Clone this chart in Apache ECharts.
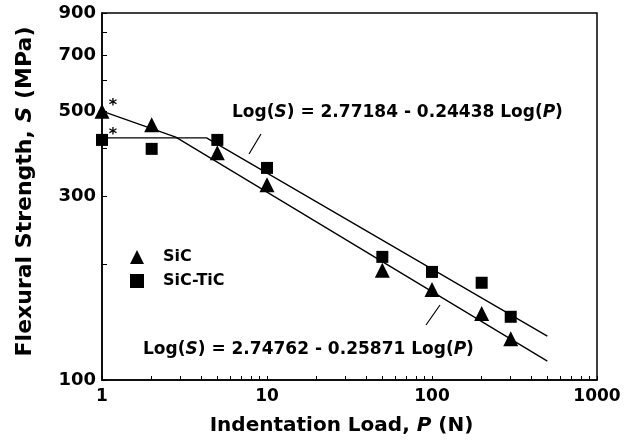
<!DOCTYPE html>
<html>
<head>
<meta charset="utf-8">
<script src="https://cdn.jsdelivr.net/npm/echarts@6/dist/echarts.min.js"></script>
<style>
  html, body { margin: 0; padding: 0; background: #fff; }
  #main { width: 636px; height: 445px; }
</style>
</head>
<body>
<div id="main"></div>
<script>
// indentation loads (N) and measured strengths (MPa)
var loads = [1, 2, 5, 10, 50, 100, 200, 300];
var sicStrength = [500, 461, 390, 322, 193, 172, 149, 128];
var sicTicStrength = [421, 399, 421, 356, 209, 191, 179, 146];

// fitted curves, vertices
var sicCurveLoad = [1, 2.8, 500];
var sicCurveStrength = [500, 428, 112];
var ticCurveLoad = [1, 4.3, 500];
var ticCurveStrength = [426, 426, 130];

var yLabelValues = [100, 300, 500, 700, 900];
var yTickValues = [100, 200, 300, 400, 500, 600, 700, 800, 900];
var xTickValues = [1, 2, 3, 4, 5, 6, 7, 8, 9, 10, 20, 30, 40, 50, 60, 70, 80, 90, 100,
  200, 300, 400, 500, 600, 700, 800, 900, 1000];

var FONT = 'DejaVu Sans';

function pairs(xs, ys) {
  return xs.map(function (x, i) { return [x, ys[i]]; });
}

function pointData(ys) {
  var d = pairs(loads, ys);
  // asterisk on the 1 N point
  d[0] = {
    value: d[0],
    label: { show: true, formatter: '*', position: 'inside', offset: [11, -5],
      color: '#000', fontSize: 16, fontFamily: FONT, fontWeight: 'bold' }
  };
  return d;
}

var chart = echarts.init(document.getElementById('main'));

var italic = { fontStyle: 'italic', fontFamily: FONT, fontWeight: 'bold', color: '#000' };

var option = {
  animation: false,
  backgroundColor: '#fff',
  grid: {
    left: 102, right: 39, top: 13, bottom: 65,
    show: true, borderColor: '#000', borderWidth: 1.5
  },
  legend: {
    orient: 'vertical',
    left: 125, top: 244,
    itemWidth: 14, itemHeight: 14, itemGap: 8,
    data: [{ name: 'SiC', icon: 'triangle' }, { name: 'SiC-TiC', icon: 'rect' }],
    itemStyle: { opacity: 1 },
    textStyle: { fontFamily: FONT, fontWeight: 'bold', fontSize: 16, color: '#000', padding: [0, 0, 0, 14] }
  },
  xAxis: {
    type: 'log',
    min: 1, max: 1000,
    name: 'Indentation Load, {i|P} (N)',
    nameLocation: 'middle',
    nameGap: 36,
    nameTextStyle: {
      fontFamily: FONT, fontWeight: 'bold', fontSize: 20, color: '#000', padding: [0, 16, 0, 0],
      rich: { i: Object.assign({ fontSize: 20 }, italic) }
    },
    axisLine: { lineStyle: { color: '#000', width: 1.5 } },
    axisTick: { inside: true, length: 4, lineStyle: { color: '#000' }, customValues: xTickValues },
    axisLabel: {
      fontFamily: FONT, fontWeight: 'bold', fontSize: 17, color: '#000', margin: 8,
      formatter: function (v) { return String(Math.round(v)); }
    },
    splitLine: { show: false }
  },
  yAxis: {
    type: 'log',
    min: 100, max: 900,
    name: 'Flexural Strength, {i|S} (MPa)',
    nameLocation: 'middle',
    nameGap: 66,
    nameTextStyle: {
      fontFamily: FONT, fontWeight: 'bold', fontSize: 22, color: '#000', padding: [0, 0, 0, 10],
      rich: { i: Object.assign({ fontSize: 22 }, italic) }
    },
    axisLine: { lineStyle: { color: '#000', width: 1.5 } },
    axisTick: { inside: true, length: 5, lineStyle: { color: '#000' }, customValues: yTickValues },
    axisLabel: { fontFamily: FONT, fontWeight: 'bold', fontSize: 18, color: '#000', margin: 6, customValues: yLabelValues },
    splitLine: { show: false }
  },
  series: [
    {
      type: 'line', name: 'fitSiC', data: pairs(sicCurveLoad, sicCurveStrength),
      showSymbol: false, silent: true, lineStyle: { color: '#000', width: 1.3 }, z: 1
    },
    {
      type: 'line', name: 'fitSiCTiC', data: pairs(ticCurveLoad, ticCurveStrength),
      showSymbol: false, silent: true, lineStyle: { color: '#000', width: 1.3 }, z: 1
    },
    {
      type: 'scatter', name: 'SiC', symbol: 'triangle', symbolSize: 15,
      itemStyle: { color: '#000', opacity: 1 }, data: pointData(sicStrength), z: 3
    },
    {
      type: 'scatter', name: 'SiC-TiC', symbol: 'rect', symbolSize: 12,
      itemStyle: { color: '#000', opacity: 1 }, data: pointData(sicTicStrength), z: 3
    }
  ],
  graphic: [
    {
      type: 'text', left: 232, top: 104,
      style: {
        text: 'Log({i|S}) = 2.77184 - 0.24438 Log({i|P})',
        font: 'bold 17px "DejaVu Sans"', fill: '#000',
        rich: { i: { fontStyle: 'italic', fontWeight: 'bold', fontSize: 17, fontFamily: FONT } }
      }
    },
    {
      type: 'line', shape: { x1: 261, y1: 134, x2: 249, y2: 154 },
      style: { stroke: '#000', lineWidth: 1.2 }
    },
    {
      type: 'text', left: 143, top: 341,
      style: {
        text: 'Log({i|S}) = 2.74762 - 0.25871 Log({i|P})',
        font: 'bold 17px "DejaVu Sans"', fill: '#000',
        rich: { i: { fontStyle: 'italic', fontWeight: 'bold', fontSize: 17, fontFamily: FONT } }
      }
    },
    {
      type: 'line', shape: { x1: 440, y1: 305, x2: 426, y2: 325 },
      style: { stroke: '#000', lineWidth: 1.2 }
    }
  ]
};

chart.setOption(option);
</script>
</body>
</html>
